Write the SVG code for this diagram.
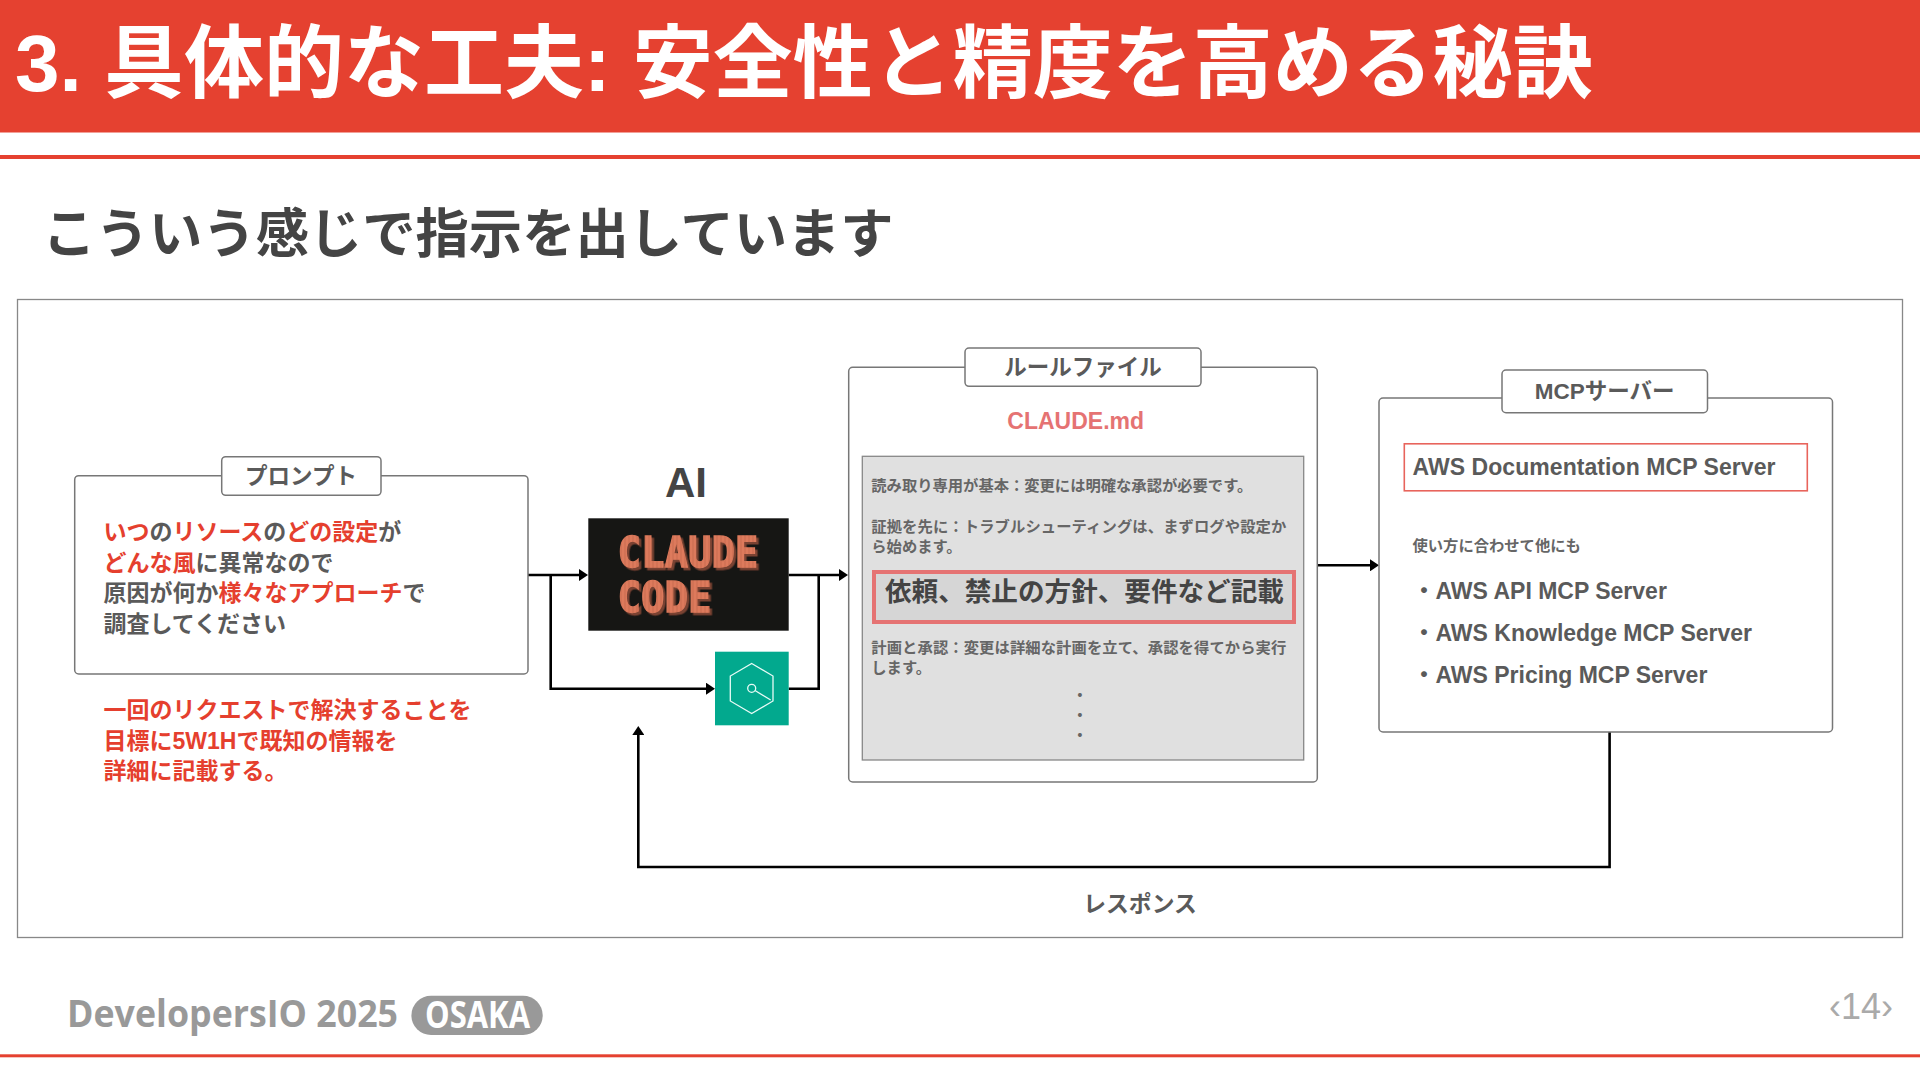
<svg xmlns="http://www.w3.org/2000/svg" width="1920" height="1080" viewBox="0 0 1920 1080">
<style>
text{font-family:"Liberation Sans","Noto Sans CJK JP",sans-serif;font-weight:700;fill:#5a5a5a}
.box{fill:#fff;stroke:#777;stroke-width:1.5}
.lab{font-size:22.5px;text-anchor:middle}
.red{fill:#e53f2e}
.p{font-size:23px}
.s{font-size:15.3px;fill:#666}
.logo{font-family:"DejaVu Sans Mono",monospace;font-size:39px;fill:url(#grid);stroke:url(#grid);stroke-width:1.2}
.conn{fill:none;stroke:#000;stroke-width:2.6;marker-end:url(#ah)}
.noarrow{marker-end:none}
</style>
<defs>
<marker id="ah" markerUnits="userSpaceOnUse" markerWidth="9" markerHeight="12" refX="3" refY="6" orient="auto"><path d="M0,0L9,6L0,12z" fill="#000"/></marker>
<pattern id="grid" patternUnits="userSpaceOnUse" width="4" height="4"><rect width="4" height="4" fill="#dd7a5c"/><path d="M3.5,0V4" stroke="#c96c50" stroke-width="1"/></pattern>
<filter id="pix" x="-5%" y="-10%" width="115%" height="130%"><feDropShadow dx="2.5" dy="2.5" stdDeviation="0" flood-color="#7a4232"/></filter>
</defs>
<rect width="1920" height="1080" fill="#fff"/>
<g id="header">
<rect width="1920" height="132.5" fill="#e54130"/>
<rect y="155" width="1920" height="4" fill="#e54130"/>
<text x="15" y="91" font-size="80" style="fill:#fff">3. 具体的な工夫: 安全性と精度を高める秘訣</text>
<text x="42.5" y="253" font-size="53.3" style="fill:#444">こういう感じで指示を出しています</text>
</g>
<rect id="frame" x="17.5" y="299.5" width="1885" height="638" fill="#fff" stroke="#888" stroke-width="1.3"/>
<g id="connectors">
<path class="conn" d="M528,575H582"/>
<path class="conn" d="M550.7,575V688.7H709"/>
<path class="conn" d="M788.7,575H842"/>
<path class="conn noarrow" d="M788.7,688.7H818.7V575"/>
<path class="conn" d="M1317.3,565.3H1373"/>
<path class="conn" d="M1609.6,732V867H638.3V732"/>
<text x="1140" y="912" font-size="22.8" text-anchor="middle">レスポンス</text>
</g>
<g id="prompt">
<rect class="box" x="74.7" y="475.7" width="453.3" height="198.3" rx="4"/>
<rect class="box" x="221.7" y="456.7" width="159.3" height="38.6" rx="4"/>
<text x="301" y="484" class="lab">プロンプト</text>
<text x="103.5" y="540" class="p"><tspan class="red">いつ</tspan>の<tspan class="red">リソース</tspan>の<tspan class="red">どの設定</tspan>が</text>
<text x="103.5" y="570.5" class="p"><tspan class="red">どんな風</tspan>に異常なので</text>
<text x="103.5" y="601.3" class="p">原因が何か<tspan class="red">様々なアプローチ</tspan>で</text>
<text x="103.5" y="631.8" class="p">調査してください</text>
<text x="103.5" y="718" class="p red">一回のリクエストで解決することを</text>
<text x="103.5" y="748.7" class="p red">目標に5W1Hで既知の情報を</text>
<text x="103.5" y="779.3" class="p red">詳細に記載する。</text>
</g>
<g id="ai">
<text x="686" y="497" font-size="42" text-anchor="middle" style="fill:#444">AI</text>
<rect x="588.3" y="518.3" width="200.4" height="112.4" fill="#161614"/>
<g filter="url(#pix)">
<text class="logo" transform="translate(617.5,566.5) scale(1,1.08)">CLAUDE</text>
<text class="logo" transform="translate(617.5,611.5) scale(1,1.08)">CODE</text>
</g>
</g>
<g id="tool">
<rect x="715" y="651.7" width="73.7" height="73.6" fill="#02a98e"/>
<path d="M751.7,663.5L773,676V701L751.7,713.5L730.3,701V676Z" fill="none" stroke="#e8fbf6" stroke-width="1.3"/>
<circle cx="751.7" cy="688.3" r="4" fill="none" stroke="#e8fbf6" stroke-width="1.3"/>
<path d="M755,690.5L770.7,700" fill="none" stroke="#e8fbf6" stroke-width="1.3"/>
</g>
<g id="rules">
<rect class="box" x="848.7" y="367.3" width="468.6" height="414.7" rx="4"/>
<rect class="box" x="965" y="348" width="236" height="38.3" rx="4"/>
<text x="1083" y="375" class="lab">ルールファイル</text>
<text x="1075.7" y="428.6" font-size="23" text-anchor="middle" style="fill:#e57373">CLAUDE.md</text>
<rect x="862.3" y="456.3" width="441.4" height="303.7" fill="#e0e0e0" stroke="#888" stroke-width="1.3"/>
<text x="871.3" y="491" class="s">読み取り専用が基本：変更には明確な承認が必要です。</text>
<text x="871.3" y="531.5" class="s" textLength="415" lengthAdjust="spacing">証拠を先に：トラブルシューティングは、まずログや設定か</text>
<text x="871.3" y="551.8" class="s">ら始めます。</text>
<rect x="874" y="572" width="420" height="50" fill="#d6d6d6" stroke="#e57373" stroke-width="4"/>
<text x="885" y="600.5" font-size="26.6" style="fill:#444">依頼、禁止の方針、要件など記載</text>
<text x="871.3" y="653" class="s" textLength="415" lengthAdjust="spacing">計画と承認：変更は詳細な計画を立て、承認を得てから実行</text>
<text x="871.3" y="673.3" class="s">します。</text>
<text x="1080" y="701" class="s" text-anchor="middle">・</text>
<text x="1080" y="721" class="s" text-anchor="middle">・</text>
<text x="1080" y="741" class="s" text-anchor="middle">・</text>
</g>
<g id="mcp">
<rect class="box" x="1379" y="398" width="453.5" height="334" rx="4"/>
<rect class="box" x="1502" y="370" width="205.5" height="42.7" rx="4"/>
<text x="1604.6" y="399" class="lab">MCPサーバー</text>
<rect x="1404.3" y="443.8" width="403" height="47" fill="#fff" stroke="#e8645c" stroke-width="1.6"/>
<text x="1412.5" y="475.3" class="p" textLength="363">AWS Documentation MCP Server</text>
<text x="1412.5" y="551" class="s">使い方に合わせて他にも</text>
<text x="1412.5" y="598.5" class="p">・AWS API MCP Server</text>
<text x="1412.5" y="640.7" class="p">・AWS Knowledge MCP Server</text>
<text x="1412.5" y="683" class="p">・AWS Pricing MCP Server</text>
</g>
<g id="footer">
<rect y="1054.3" width="1920" height="3" fill="#e54130"/>
<text x="67" y="1027" font-size="38" textLength="331" lengthAdjust="spacingAndGlyphs" style="font-family:'Open Sans',sans-serif;fill:#999">DevelopersIO 2025</text>
<rect x="411.4" y="995.7" width="131.3" height="39.3" rx="19.6" fill="#999"/>
<text x="425" y="1027.7" font-size="37" textLength="105" lengthAdjust="spacingAndGlyphs" style="font-family:'Open Sans',sans-serif;fill:#fff">OSAKA</text>
<text x="1829" y="1019" font-size="37" textLength="64" lengthAdjust="spacingAndGlyphs" style="font-weight:400;fill:#aaa">‹14›</text>
</g>
</svg>
